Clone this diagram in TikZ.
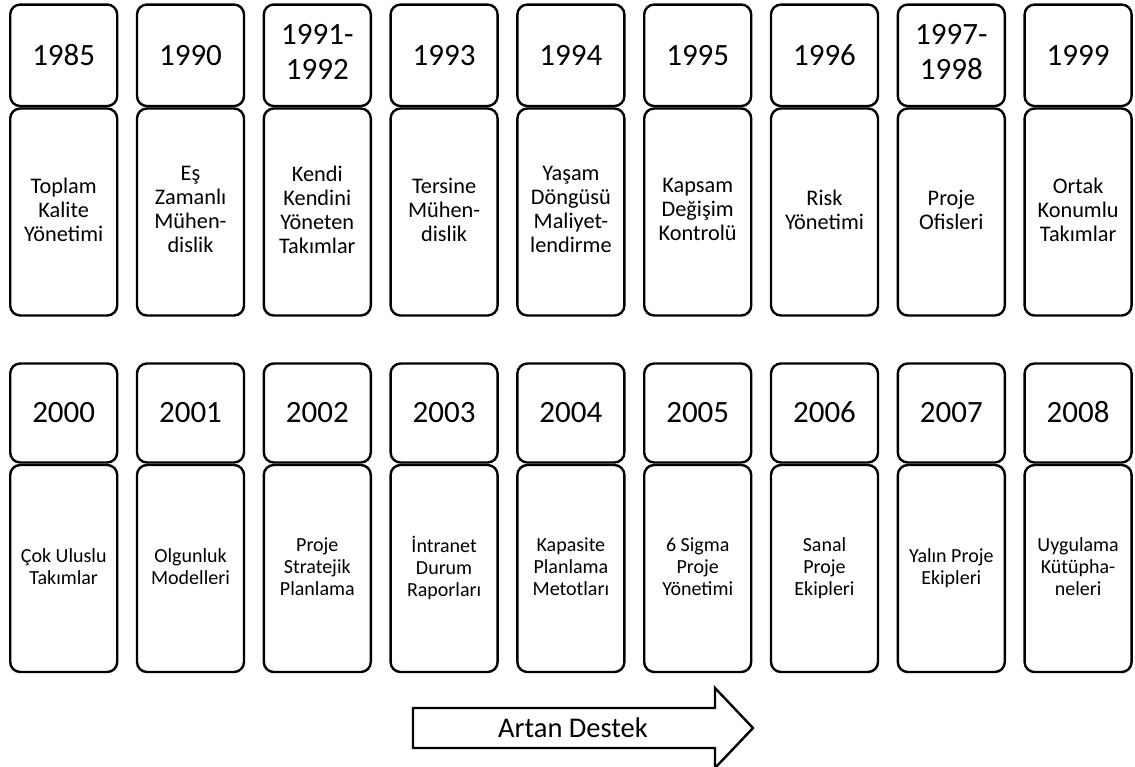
\documentclass[tikz,border=0pt]{standalone}
\usepackage{fontspec}
\setmainfont{Carlito}
\begin{document}
\begin{tikzpicture}[x=1pt,y=-1pt,
  card/.style={draw=black, line width=2.4pt, rounded corners=10pt, fill=white,
    minimum width=107pt, align=center, inner sep=0pt,
    execute at begin node={\rule{0pt}{0.85em}},
    execute at end node={\rule[-0.22em]{0pt}{0.22em}}},
  yearbox/.style={card, font=\fontsize{31}{35}\selectfont},
  upperdesc/.style={card, minimum height=207pt, font=\fontsize{22.3}{24}\selectfont},
  lowerdesc/.style={card, minimum height=207pt, font=\fontsize{20}{22}\selectfont},
  label/.style={font=\fontsize{28.5}{32}\selectfont, inner sep=0pt}
]
\useasboundingbox (0,0) rectangle (1135,766);

% upper row: 1985 -- 1999
\foreach \yr/\txt [count=\i] in {
  1985/{Toplam\\Kalite\\Yönetimi},
  1990/{Eş\\Zamanlı\\Mühen-\\dislik},
  {1991-\\1992}/{Kendi\\Kendini\\Yöneten\\Takımlar},
  1993/{Tersine\\Mühen-\\dislik},
  1994/{Yaşam\\Döngüsü\\Maliyet-\\lendirme},
  1995/{Kapsam\\Değişim\\Kontrolü},
  1996/{Risk\\Yönetimi},
  {1997-\\1998}/{Proje\\Ofisleri},
  1999/{Ortak\\Konumlu\\Takımlar}}{
  \node[yearbox, minimum height=101.5pt] (ya\i) at ({63.7+(\i-1)*126.8}, 55.3) {\yr};
  \node[upperdesc] (da\i) at ({63.7+(\i-1)*126.8}, 212) {\txt};
}

% lower row: 2000 -- 2008
\foreach \yr/\txt [count=\i] in {
  2000/{Çok Uluslu\\Takımlar},
  2001/{Olgunluk\\Modelleri},
  2002/{Proje\\Stratejik\\Planlama},
  2003/{İntranet\\Durum\\Raporları},
  2004/{Kapasite\\Planlama\\Metotları},
  2005/{6 Sigma\\Proje\\Yönetimi},
  2006/{Sanal\\Proje\\Ekipleri},
  2007/{Yalın Proje\\Ekipleri},
  2008/{Uygulama\\Kütüpha-\\neleri}}{
  \node[yearbox, minimum height=99pt] (yb\i) at ({63.7+(\i-1)*126.8}, 413) {\yr};
  \node[lowerdesc] (db\i) at ({63.7+(\i-1)*126.8}, 568.5) {\txt};
}

% block arrow with its caption
\draw[line width=2.4pt, fill=white, line join=miter]
  (413,708) -- (715,708) -- (715,688) -- (753,728) -- (715,768)
  -- (715,748) -- (413,748) -- cycle;
\node[label] (lbl) at (573,728) {Artan Destek};
\end{tikzpicture}
\end{document}
